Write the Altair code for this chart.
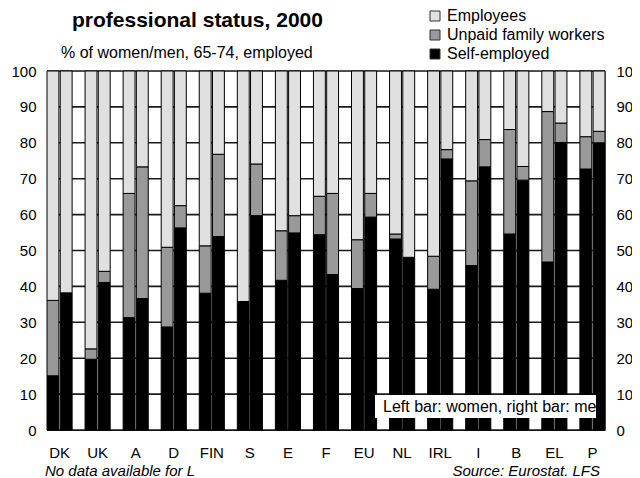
import altair as alt
import pandas as pd

countries = ["DK", "UK", "A", "D", "FIN", "S", "E", "F", "EU", "NL", "IRL", "I", "B", "EL", "P"]
categories = ["Employees", "Unpaid family workers", "Self-employed"]
y_ticks = [0, 10, 20, 30, 40, 50, 60, 70, 80, 90, 100]

self_women = [15.1, 19.7, 31.3, 28.7, 38.1, 35.8, 41.7, 54.4, 39.4, 53.2, 39.2, 45.8, 54.6, 46.8, 72.7]
unpaid_women = [21.0, 2.9, 34.6, 22.2, 13.2, 0.0, 13.8, 10.7, 13.6, 1.4, 9.2, 23.6, 29.1, 41.9, 9.0]
emp_women = [63.9, 77.4, 34.1, 49.1, 48.7, 64.2, 44.5, 34.9, 47.0, 45.4, 51.6, 30.6, 16.3, 11.3, 18.3]

self_men = [38.2, 41.1, 36.6, 56.3, 53.9, 59.7, 54.9, 43.3, 59.3, 48.1, 75.5, 73.3, 69.6, 80.1, 80.0]
unpaid_men = [0.0, 3.1, 36.7, 6.2, 22.9, 14.4, 4.8, 22.6, 6.6, 0.0, 2.6, 7.6, 3.8, 5.4, 3.2]
emp_men = [61.8, 55.8, 26.7, 37.5, 23.2, 25.9, 40.3, 34.1, 34.1, 51.9, 21.9, 19.1, 26.6, 14.5, 16.8]

rows = []
series = {
    ("women", "Self-employed"): self_women,
    ("women", "Unpaid family workers"): unpaid_women,
    ("women", "Employees"): emp_women,
    ("men", "Self-employed"): self_men,
    ("men", "Unpaid family workers"): unpaid_men,
    ("men", "Employees"): emp_men,
}
order_map = {"Self-employed": 0, "Unpaid family workers": 1, "Employees": 2}
for (sex, cat), vals in series.items():
    for c, v in zip(countries, vals):
        if v > 0:
            rows.append({"country": c, "sex": sex, "status": cat, "value": v, "ord": order_map[cat]})
df = pd.DataFrame(rows)

FONT = "Liberation Sans"
yscale = alt.Scale(domain=[0, 100], nice=False)

grid = alt.Chart(pd.DataFrame({"v": y_ticks})).mark_rule(stroke="#1a1a1a", strokeWidth=1.6).encode(
    x=alt.value(0), x2=alt.value(558),
    y=alt.Y("v:Q", scale=yscale,
            axis=alt.Axis(title=None, values=y_ticks, ticks=False, grid=False,
                          domainColor="#000000", labelFontSize=15, labelPadding=11,
                          labelColor="#000000", labelFont=FONT)),
)

bars = alt.Chart(df).mark_bar(stroke="#000000", strokeWidth=1).encode(
    x=alt.X("country:N", sort=countries,
            scale=alt.Scale(paddingInner=0.34, paddingOuter=0),
            axis=alt.Axis(title=None, labelAngle=0, ticks=False, labelFontSize=15,
                          labelPadding=15, domainColor="#000000", labelColor="#000000",
                          labelFont=FONT)),
    xOffset=alt.XOffset("sex:N", sort=["women", "men"], scale=alt.Scale(paddingInner=0.1)),
    y=alt.Y("value:Q", stack="zero", scale=yscale,
            axis=alt.Axis(title=None, values=y_ticks, ticks=False, grid=False,
                          orient="right", domainColor="#808080", labelFontSize=15,
                          labelPadding=11, labelColor="#000000", labelFont=FONT)),
    color=alt.Color("status:N", scale=alt.Scale(domain=categories,
                                                 range=["#e0e0e0", "#999999", "#000000"]),
                    legend=alt.Legend(title=None, orient="none", legendX=380, legendY=-63,
                                      symbolType="square", symbolSize=100,
                                      symbolStrokeColor="#333333", symbolStrokeWidth=1,
                                      labelFontSize=16, labelFont=FONT, labelColor="#000000",
                                      labelOffset=4, rowPadding=3)),
    order=alt.Order("ord:Q", sort="ascending"),
)

one = pd.DataFrame({"k": [0]})

box = alt.Chart(one).mark_rect(fill="white", stroke=None).encode(
    x=alt.value(328), x2=alt.value(549), y=alt.value(324), y2=alt.value(347))
box_text = alt.Chart(one).mark_text(text="Left bar: women, right bar: me", align="left",
                                     baseline="middle", fontSize=16, font=FONT,
                                     color="#000000").encode(
    x=alt.value(336), y=alt.value(335.5))

title = alt.Chart(one).mark_text(text="professional status, 2000", align="left",
                                  baseline="alphabetic", fontSize=21, fontWeight="bold",
                                  font=FONT, color="#000000").encode(
    x=alt.value(25), y=alt.value(-44))
subtitle = alt.Chart(one).mark_text(text="% of women/men, 65-74, employed", align="left",
                                     baseline="middle", fontSize=16, font=FONT,
                                     color="#000000").encode(
    x=alt.value(14), y=alt.value(-18))
foot_left = alt.Chart(one).mark_text(text="No data available for L", align="left",
                                      baseline="alphabetic", fontSize=15, fontStyle="italic",
                                      font=FONT, color="#000000").encode(
    x=alt.value(-2), y=alt.value(405))
foot_right = alt.Chart(one).mark_text(text="Source: Eurostat. LFS", align="right",
                                       baseline="alphabetic", fontSize=15, fontStyle="italic",
                                       font=FONT, color="#000000").encode(
    x=alt.value(553), y=alt.value(405))

chart = alt.layer(grid, bars, box, box_text, title, subtitle, foot_left, foot_right).resolve_axis(
    y="independent"
).properties(
    width=558, height=359,
    padding={"left": 39, "top": 63, "right": 27, "bottom": 48},
    autosize=alt.AutoSizeParams(type="none"),
    background="white",
).configure_view(stroke="#808080", strokeWidth=1).configure(font=FONT)

chart.save("out.html", embed_options={"renderer": "svg", "actions": False})
